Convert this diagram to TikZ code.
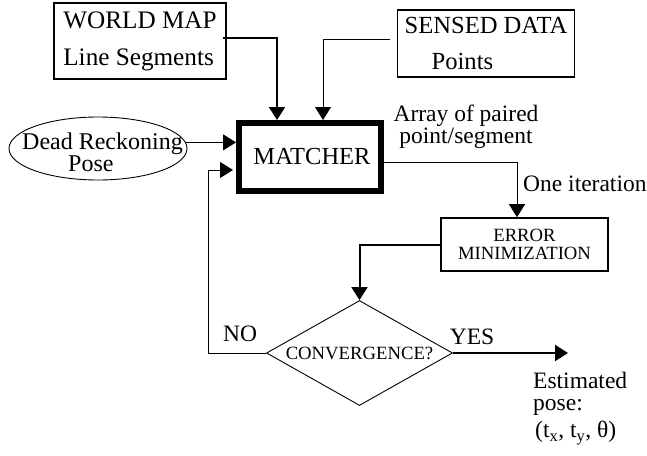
\documentclass[tikz,border=0pt]{standalone}
\usepackage{fontspec}
\setmainfont{Liberation Serif}
\usetikzlibrary{arrows.meta,shapes.geometric}
\tikzset{
  big/.style={font=\fontsize{23.5pt}{22pt}\selectfont},
  small/.style={font=\fontsize{18.7pt}{18pt}\selectfont},
  box/.style={draw, line width=1.6pt, inner sep=0pt, rectangle},
  txt/.style={inner sep=0pt, big},
  tip/.style={-{Triangle[length=13pt,width=16pt]}},
  thinline/.style={line width=0.9pt, tip},
  thickline/.style={line width=2pt, tip},
}
\begin{document}
\begin{tikzpicture}[x=1pt,y=-1pt]
\useasboundingbox (0,0) rectangle (647,455);
% nodes
\node[box, minimum width=172pt, minimum height=76pt, align=left,
      font=\fontsize{25.2pt}{37pt}\selectfont] (wm) at (140,41)
      {WORLD MAP\\Line Segments};
\node[box, minimum width=177pt, minimum height=67pt, align=left,
      font=\fontsize{24.6pt}{36pt}\selectfont] (sd) at (486,43.5)
      {SENSED DATA\\\hspace{27pt}Points};
\node[draw, line width=6pt, inner sep=0pt, minimum width=142pt, minimum height=68pt,
      font=\fontsize{24.5pt}{22pt}\selectfont] (mat) at (310,157) {\hspace{4pt}MATCHER};
\node[draw, ellipse, line width=0.9pt, inner sep=0pt, minimum width=178pt, minimum height=63pt] (dr) at (98,148.5) {};
\node[txt, align=left, font=\fontsize{24pt}{22pt}\selectfont] (drt) at (102.5,152) {Dead Reckoning\\\hspace{46pt}Pose};
\node[box, minimum width=167pt, minimum height=53pt, align=center, small] (err) at (524.5,244.5)
      {ERROR\\MINIMIZATION};
\node[draw, diamond, aspect=1.77, line width=0.9pt, inner sep=0pt, minimum width=186pt, minimum height=105pt, small] (conv) at (359.5,353)
      {CONVERGENCE?};
% labels
\node[txt, align=center] (arr) at (466,127) {Array of paired\\point/segment};
\node[txt, anchor=west] (iter) at (523,184) {One iteration};
\node[txt] (no) at (240,334) {NO};
\node[txt] (yes) at (472,337) {YES};
\node[txt, anchor=north west, align=left] (est) at (533,372)
      {Estimated\\pose:\\[5pt]\hspace{2pt}(t\textsubscript{x}, t\textsubscript{y}, θ)};
\coordinate (fb) at (208,353);
\coordinate (yesend) at (568,353);
% connectors
\draw[thickline] ([yshift=3.5pt,xshift=-4pt]wm.east) -| ([xshift=-33pt]mat.north);
\draw[thinline, shorten <=7pt] ([yshift=4.5pt]sd.west) -| ([xshift=13pt]mat.north);
\draw[thinline] (dr.4) -- (dr.4 -| mat.west);
\draw[thinline] ([yshift=-5.5pt]mat.east) -| ([xshift=-7.5pt]err.north);
\draw[thickline] (err.west) -| (conv.north);
\draw[thinline, shorten >=3pt] (conv.west) -- (fb) |- ([yshift=-13pt]mat.west);
\draw[thickline] (conv.east) -- (yesend);
\end{tikzpicture}
\end{document}
